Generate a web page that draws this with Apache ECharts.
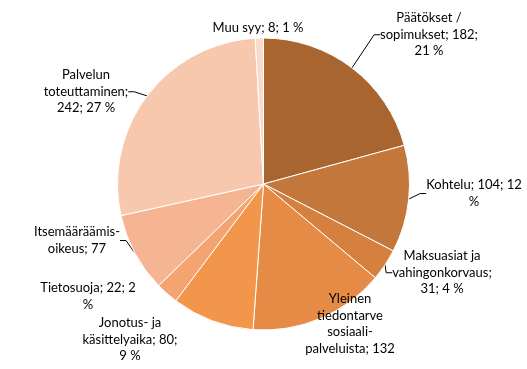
<!DOCTYPE html>
<html><head><meta charset="utf-8">
<script src="https://cdn.jsdelivr.net/npm/echarts@6/dist/echarts.min.js"></script>
<style>html,body{margin:0;padding:0;background:#fff}#c{width:527px;height:369px}</style>
</head><body><div id="c"></div>
<script>
var categories = ["Päätökset /\nsopimukset", "Kohtelu", "Maksuasiat ja\nvahingonkorvaus", "Yleinen\ntiedontarve\nsosiaali-\npalveluista", "Jonotus- ja\nkäsittelyaika", "Tietosuoja", "Itsemääräämis-\noikeus", "Palvelun\ntoteuttaminen", "Muu syy"];
var values = [182, 104, 31, 132, 80, 22, 77, 242, 8];
var percents = ["21 %", "12 %", "4 %", "", "9 %", "2 %", "", "27 %", "1 %"];
var labelTexts = [
  "Päätökset /\nsopimukset; 182;\n21 %",
  "Kohtelu; 104; 12\n%",
  "Maksuasiat ja\nvahingonkorvaus;\n31; 4 %",
  "Yleinen\ntiedontarve\nsosiaali-\npalveluista; 132",
  "Jonotus- ja\nkäsittelyaika; 80;\n9 %",
  "Tietosuoja; 22; 2\n%",
  "Itsemääräämis-\noikeus; 77",
  "Palvelun\ntoteuttaminen;\n242; 27 %",
  "Muu syy; 8; 1 %"
];
var colors = ["#A8652F", "#C3773A", "#D5803F", "#E68B46", "#F2964B", "#F4A470", "#F6B592", "#F7C7AE", "#FADBCB"];
// label anchor (center x, top y) and whether a leader line is drawn
var labelPos = [[429, 10], [474, 177], [442, 248], [350, 291], [130, 315], [88, 280], [77, 224], [86, 67], [258, 20]];
var showLine = [true, true, true, false, false, false, true, true, false];

var data = values.map(function (v, i) {
  return {
    name: categories[i], value: v,
    itemStyle: { color: colors[i] },
    labelLine: { show: showLine[i] }
  };
});

var chart = echarts.init(document.getElementById('c'), null, { renderer: 'canvas' });
chart.setOption({
  animation: false,
  backgroundColor: '#fff',
  series: [{
    type: 'pie',
    center: [263.5, 184],
    radius: [0, 146],
    startAngle: 90,
    clockwise: true,
    data: data,
    itemStyle: { borderColor: '#fff', borderWidth: 1 },
    label: {
      show: true,
      position: 'outside',
      formatter: function (p) { return labelTexts[p.dataIndex]; },
      fontFamily: 'Lato',
      fontSize: 13,
      lineHeight: 16.5,
      color: '#000',
      align: 'center',
      overflow: 'none'
    },
    labelLine: { show: true, length: 10, length2: 6, lineStyle: { color: '#000', width: 1 } },
    labelLayout: function (params) {
      var p = labelPos[params.dataIndex];
      return { x: p[0], y: p[1], align: 'center', verticalAlign: 'top', hideOverlap: false };
    }
  }]
});
</script></body></html>
